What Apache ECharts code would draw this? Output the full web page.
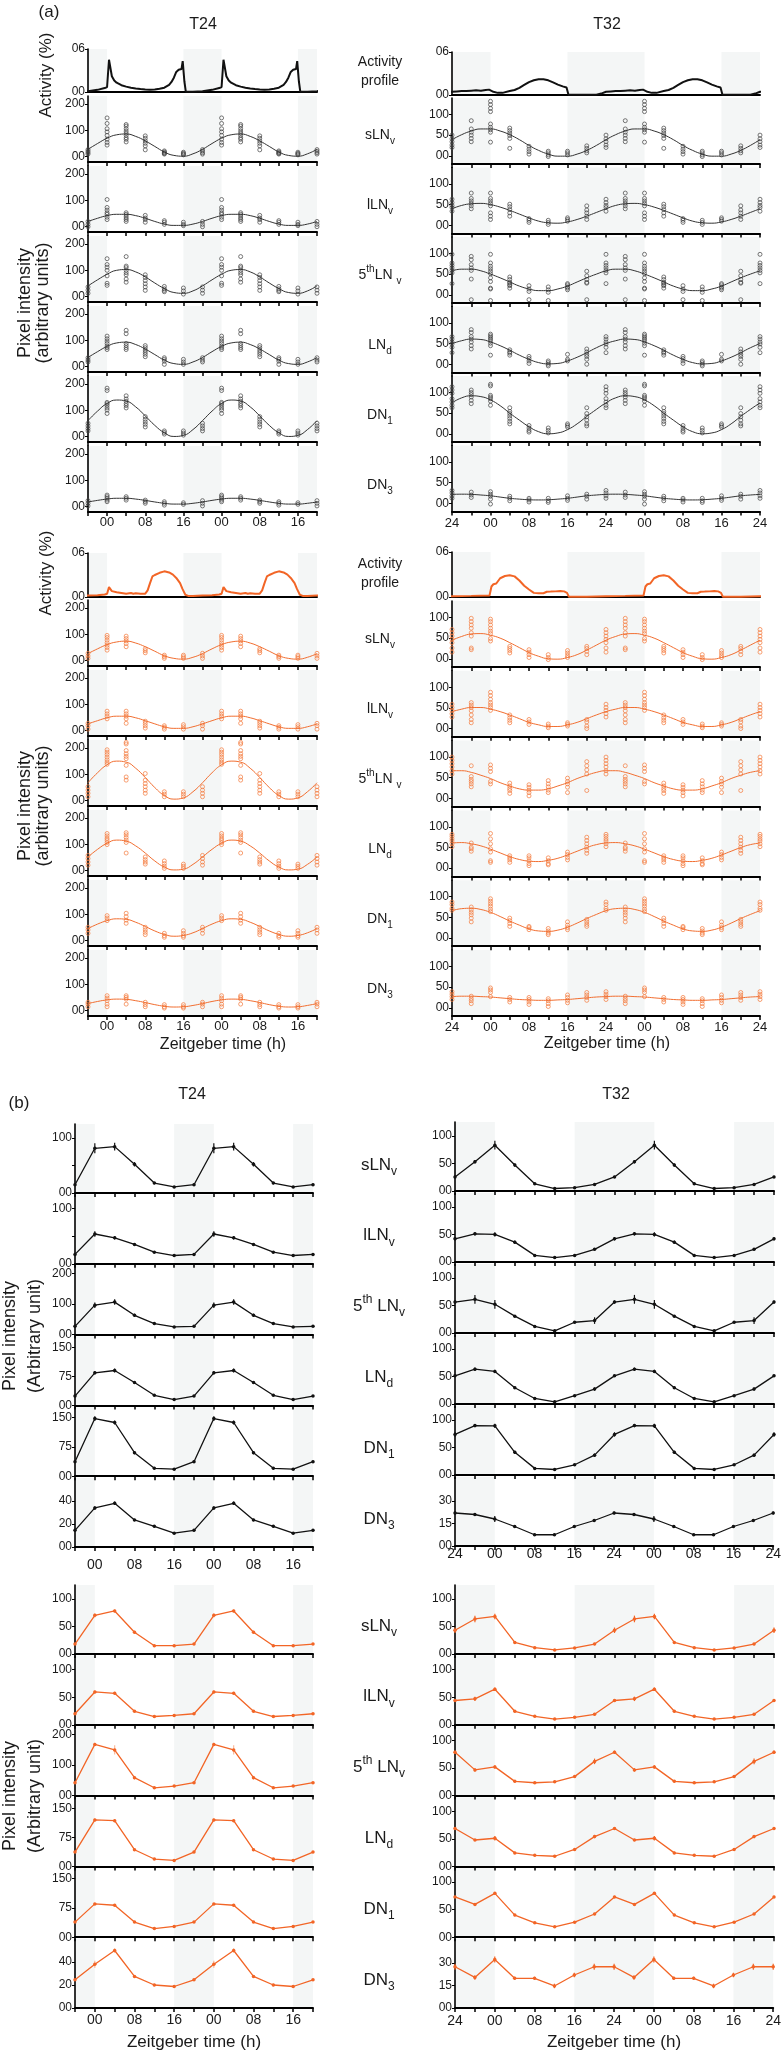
<!DOCTYPE html>
<html><head><meta charset="utf-8">
<script src="https://cdn.jsdelivr.net/npm/echarts@6/dist/echarts.min.js"></script>
<style>html,body{margin:0;padding:0;background:#fff}#c{width:784px;height:2055px}</style>
</head><body><div id="c"></div>
<script>
// ---------------- DATA ----------------
const ztT24 = [0,4,8,12,16,20];
const ztT32 = [0,4,8,12,16,20,24,28];
const darkT24 = [[-4,0],[16,24],[40,44]];
const darkT32 = [[-8,0],[16,32],[48,56]];
const rowLabelsA = ['{n|sLN}{sb|v}','{n|lLN}{sb|v}','{n|5}{sp|th}{n|LN }{sb|v}','{n|LN}{sb|d}','{n|DN}{sb|1}','{n|DN}{sb|3}'];
const rowLabelsB = ['{n|sLN}{sb|v}','{n|lLN}{sb|v}','{n|5}{sp|th}{n| LN}{sb|v}','{n|LN}{sb|d}','{n|DN}{sb|1}','{n|DN}{sb|3}'];

// activity profiles: [ZT within cycle, activity]
const actBlk24 = [[0,0.7],[0.4,4.5],[1,2.2],[1.5,1.6],[2,1.3],[3,0.95],[4,0.75],[5,0.6],[6,0.5],[7,0.42],[8,0.36],[9,0.33],[10,0.35],[11,0.45],[12,0.6],[13,1.0],[13.5,1.4],[14,2.0],[14.5,2.8],[15,3.1],[15.6,3.2],[15.85,4.3],[16.2,1.5],[16.5,0.05],[18,0.05],[20,0.12],[22,0.3],[23.5,0.55]];
const actBlk32 = [[0,1.0],[0.6,0.45],[1.5,0.3],[2.5,0.3],[4,0.55],[5,0.7],[6,1.0],[7,1.4],[8,1.8],[9,2.05],[10,2.2],[11,2.2],[12,2.05],[13,1.75],[14,1.45],[15,1.2],[15.8,1.05],[16.2,0.05],[18,0.02],[20,0.02],[22,0.05],[23,0.2],[24,0.45],[25,0.5],[26,0.55],[27,0.55],[28,0.6],[29,0.65],[30,0.6],[31,0.7],[31.7,0.75]];
const actOrg24 = [[0,0.45],[0.4,1.35],[1,0.8],[2,0.65],[3,0.55],[4,0.45],[5,0.55],[5.5,0.45],[6,0.5],[7,0.45],[8,0.45],[8.5,0.9],[9,1.9],[9.5,2.8],[10,3.0],[11,3.3],[12,3.5],[13,3.35],[13.8,3.05],[14.5,2.6],[15.3,1.9],[15.8,1.1],[16.4,0.3],[17,0.15],[18,0.15],[20,0.2],[22,0.25],[23.5,0.35]];
const actOrg32 = [[0,0.2],[0.2,1.4],[0.6,1.7],[1.2,1.8],[1.6,2.0],[2,2.5],[3,2.8],[4,2.9],[5,2.75],[6,2.2],[7,1.5],[8,1.0],[9,0.55],[10,0.5],[11,0.5],[11.7,0.7],[12.5,0.72],[13.5,0.75],[14.5,0.8],[15.3,0.75],[15.9,0.55],[16.3,0.02],[20,0.02],[24,0.1],[28,0.15],[31.8,0.2]];

// (a) individual values per ZT (rows: sLNv, lLNv, 5th LNv, LNd, DN1, DN3)
const blk24Pts = [
 [[147,126,106,94,81,66,54,44],[122,116,106,97,89,81,72,66,56],[79,70,60,51,41,26],[22,18,15,12,10],[17,13,10,7],[27,21,15,10]],
 [[103,73,63,53,47,36,27],[53,47,40,33,27,20],[43,33,27,17],[23,17,9],[17,9,4],[20,9,0]],
 [[144,122,112,100,79,51,43],[152,116,110,100,91,83,67,55],[83,73,61,49,37,24],[39,30,24,19],[33,22,10],[37,25,13]],
 [[116,106,97,88,78,72,65],[138,125,88,80,72,65],[80,72,63,55,47,38],[34,28,21,9],[28,18,9],[34,25,18]],
 [[184,175,130,125,118,109,101,88],[155,143,134,125,118,109],[76,66,56,47,37],[22,16,10],[22,14,6],[51,41,31,22]],
 [[44,38,32,25,19],[38,32,25],[25,19,13],[19,13,6],[15,9],[23,13,3]]
];
const blk32Pts = [
 [[132,124,115,107,77,69,63,57,33],[67,61,55,49,42,18],[23,16,10,4],[11,7,2,-2],[11,7,2],[24,18,12,7],[50,41,34,26,20],[85,65,57,50,42,34]],
 [[78,65,59,53,47,30,22,14],[51,45,38,30,22],[16,12,7],[12,7,2],[18,14,10],[47,37,30,22,14],[63,55,48,43,34],[78,65,59,53,47,40]],
 [[98,77,69,63,57,51,41,32,16,14,-14],[43,37,30,28,24,22,16],[22,14,8,-12],[19,12,6,-14],[27,24,19,16,12],[57,46,37,30,28,-12],[98,77,71,65,59,53,27],[93,85,73,65,59,38,-12]],
 [[73,69,65,61,57,51,45,22],[35,30,27,22],[19,14,8,2],[8,4,0,-4],[24,12,8],[37,30,24,19,12,0],[67,61,54,49,41,28],[84,77,67,61,54,45,37]],
 [[120,116,93,89,85,79,69],[63,54,49,43,37,30,24],[20,14,8,4],[14,8,2],[24,20,16],[63,49,41,33,24,19],[114,106,98,85,77,69,63],[106,100,95,89,81,73]],
 [[28,22,17,10,-2],[17,12,6],[12,8,3],[12,6,2],[18,12,7],[22,17,10],[31,25,18,12],[27,20,14]]
];
const org24Pts = [
 [[96,88,78,68,59,50,40],[93,84,75,65,53],[45,38,30],[21,15,9],[21,15,9],[28,18,9]],
 [[74,64,55,45],[74,64,55,45,28],[36,28,19,10],[19,13,6],[23,15,6],[28,19,6]],
 [[193,184,175,165,155,146,138],[221,215,190,178,168,159,134,90,78],[103,78,65,53,40,28],[34,25,15],[34,25,15],[53,40,28,15]],
 [[141,132,123,116,107,99],[144,136,126,116,107,67],[52,42,33,25],[37,27,17,9],[25,17,9],[58,46,33,21]],
 [[95,86,76],[104,91,78,66],[51,41,32,23],[28,19,13],[38,28,19,13],[51,41,28]],
 [[57,48,38,25,15],[57,51,44,25],[32,23,15],[23,15,10],[23,15,10],[32,25,15]]
];
const org32Pts = [
 [[96,90,82,74,67,61,49,43],[30,25,20,14],[22,16,10,3],[10,3,-2],[20,14,8,3],[30,25,18,10],[71,63,55,47,39,26,16],[98,90,82,74,63,55,26,22]],
 [[88,80,71,63,57,51,44],[33,26,20,14],[22,16,10],[11,6,2],[14,10,6],[22,16,6,0],[59,51,44,36,28],[63,57,51,43,33,22,14]],
 [[81,73,65,41,35],[37,30,24,19,12],[33,27,20,14,6],[43,35,28,20,14],[49,41,35,27,14],[89,79,69,59,19],[100,92,84,76,67,59],[79,53,46,41,35,28]],
 [[84,71,59,47,39,18,14],[30,25,20,14],[30,25,18,11,6],[25,18,11,8],[39,33,26,20],[75,67,59,51,43,36],[82,77,71,66,59,52],[61,51,47,41]],
 [[95,89,83,77,70,64],[48,42,35,28],[28,25,20],[23,17,12,8],[39,31,25,20],[45,39,33,28],[87,81,72,67],[75,68,62,56,48,39]],
 [[48,43,37,27],[25,20,14],[25,20,14,8],[22,17,10,3],[31,25,18,12],[37,31,25,18],[39,33,27,20],[28,22,17,10]]
];
// (a) fitted curves, every 2 h of one cycle
const blk24Fit = [
 [70,83,86,77,60,39,18,5,2,11,28,50],
 [42,47,47,42,32,20,10,5,5,10,20,32],
 [85,100,103,94,75,52,31,16,13,22,41,64],
 [77,90,93,84,67,46,25,12,9,18,35,57],
 [126,139,135,113,79,43,15,1,5,27,61,97],
 [29,32,32,29,24,18,13,10,10,13,18,24]
];
const blk32Fit = [
 [65,60,51,39,25,13,4,-1,-1,4,13,25,39,51,60,65],
 [50,44,36,27,18,10,6,5,8,14,22,31,40,48,52,53],
 [50,41,31,21,14,10,10,14,21,31,41,50,58,62,62,58],
 [54,45,34,22,12,4,1,2,8,17,28,40,50,57,61,60],
 [82,68,50,33,17,5,0,2,10,24,42,59,75,87,92,90],
 [18,15,12,10,8.5,8,8.5,10,12,15,18,20,21.5,22,21.5,20]
];
const org24Fit = [
 [61,71,74,67,53,36,19,9,6,13,27,45],
 [49,55,55,49,38,26,15,9,9,15,26,38],
 [136,150,146,123,88,50,20,6,11,34,68,106],
 [104,116,112,94,67,37,14,3,6,24,52,81],
 [76,83,81,70,54,37,24,17,20,30,46,63],
 [41,44,43,38,31,23,17,14,15,20,27,35]
];
const org32Fit = [
 [57,50,39,27,15,6,0,-1,3,10,21,33,45,54,60,61],
 [47,41,33,24,15,9,5,5,9,15,24,33,41,47,51,51],
 [48,38,30,23,20,20,23,30,38,48,56,63,67,67,63,56],
 [46,37,28,21,17,16,19,24,32,41,50,57,61,62,59,54],
 [62,52,41,31,22,17,16,19,26,36,47,57,66,71,72,69],
 [26,24,22,20,19,18,18,19,20,22,24,26,27,28,28,27]
];
// (b) mean and SEM per ZT
const blk24Mean = [[81,84,52,18,11,15],[54,47,35,21,15,17],[96,106,63,36,25,27],[84,90,59,26,15,24],[147,137,60,20,18,37],[34,38,23.5,18,12,14.5]];
const blk24Sem  = [[9,7,4,2,1.5,2],[5,3,2,1.5,1.5,1.5],[9,9,5,3,2,2],[4,5,3,2,1.5,2],[6,5,4,2,2,3],[1.5,1.5,1,1,1,1]];
const blk32Mean = [[83,47,13,4.5,6,12,25.5,53],[50,36,12,8,12,23,42,51],[52,30.5,12,4,19.5,22.5,56,61],[59,29.5,10,4,15,27,51,63],[89,41,12,10,18.5,36,73.5,89.5],[18,13,7.5,7.5,13,17,22,21]];
const blk32Sem  = [[8,3,2,1,1,1.5,2,3],[4,3,1.5,1,1.5,2,3,3],[8,2,2,2,2,6,3,8],[3,2,1.5,1,1.5,3,2,3],[4,3,1.5,1,1.5,3,4,3],[2,1,0.7,0.7,1,1,1,1]];
const org24Mean = [[70,78,39.5,15,15,18],[59.5,57,24.5,15,17,20],[167,149,58.5,25.5,31,42],[120,118,43,19,15.5,37],[85,81.5,38.5,22,27.5,38.5],[38,50,27.5,20,18.7,24.5]];
const org24Sem  = [[4,3,3,1.5,1.5,1.5],[3,3,2,1.5,1.5,1.5],[5,15,6,3,3,3],[4,4,3,2,1.5,3],[2,2,2,1.5,1.5,2],[3,2,1,1,1,1]];
const org32Mean = [[68,21,11.5,7.3,11,18,43,63.5],[64.5,24.5,15.3,10.4,13.5,19,44,47],[52,25.8,23.3,25,34.4,62,78.5,46.6],[51,24.5,20,18.4,30.7,54,68.7,47.8],[79.4,40,26,18.8,27.3,42,73,59.4],[32.3,19.8,19.8,14.7,22,27.5,27.5,20.4]];
const org32Sem  = [[5,2,1.5,1,1.5,2,5,6],[3,2,1.5,1,1.5,2,2,4],[3,2,2,2,2,5,3,3],[4,2,1.5,1.5,2,3,2,2],[2,2,1.5,1,1.5,2,2,2],[2,1,1,1.5,1.5,2,2,1.5]];

// ---------------- BUILD ----------------
const FONT = '"Liberation Sans", Arial, Helvetica, sans-serif';
const INK = '#1a1a1a';
const ORANGE = '#f26526';
const SHADE = '#f4f6f6';
const grids = [], xAxes = [], yAxes = [], series = [], graphics = [];

function pad(v){ return (v >= 0 && v < 10) ? '0' + v : String(v); }
function mod(a, p){ return ((a % p) + p) % p; }

function addPanel(c){
  const i = grids.length;
  grids.push({left:c.left, top:c.top, width:c.width, height:c.height, containLabel:false});
  xAxes.push({type:'value', gridIndex:i, min:c.lo, max:c.hi, interval:4,
    axisLine:{onZero:false, lineStyle:{color:'#000', width:2}},
    axisTick:{show:c.xTicks !== false, length:4, lineStyle:{color:'#000', width:1.5}},
    axisLabel:{show:!!c.xLabels, showMinLabel:true, showMaxLabel:true, margin:c.margin || 4, fontSize:c.xFont || 13, color:INK, fontFamily:FONT,
      formatter:v => (mod(v, 8) !== 0) ? '' : pad(mod(v, c.P))},
    splitLine:{show:false}});
  yAxes.push({type:'value', gridIndex:i, min:c.yMin, max:c.yMax,
    axisLine:{show:true, onZero:false, lineStyle:{color:'#000', width:1.6}},
    axisTick:{show:true, length:3, customValues:c.yTicks, lineStyle:{color:'#000', width:1}},
    axisLabel:{show:true, customValues:c.yLabels || c.yTicks, margin:3, fontSize:12, color:INK, fontFamily:FONT, formatter:v => pad(v)},
    splitLine:{show:false}});
  series.push({type:'custom', xAxisIndex:i, yAxisIndex:i, silent:true, z:0, data:c.dark, encode:{x:[0,1]},
    renderItem:(params, api) => {
      const cs = params.coordSys;
      const x0 = api.coord([api.value(0), 0])[0], x1 = api.coord([api.value(1), 0])[0];
      return {type:'rect', shape:{x:x0, y:cs.y, width:x1 - x0, height:cs.height}, style:{fill:SHADE}};
    }});
  return i;
}
function actData(pairs, P, lo, hi){
  const out = [];
  for (let k = -1; k <= 2; k++) pairs.forEach(([t, v]) => { const x = t + k * P; if (x >= lo - P / 4 && x <= hi + P / 4) out.push([x, v]); });
  return out.sort((a, b) => a[0] - b[0]);
}
function scatterData(pts, P, lo, hi){
  const out = [];
  for (let x = lo; x <= hi; x += 4) pts[mod(x, P) / 4].forEach(v => out.push([x, v]));
  return out;
}
function fitData(fit, P, lo, hi){
  const out = [];
  for (let x = lo; x <= hi; x += 2) out.push([x, fit[mod(x, P) / 2]]);
  return out;
}
function meanData(m, P, lo, hi){
  const out = [];
  for (let x = lo; x <= hi; x += 4) out.push([x, m[mod(x, P) / 4]]);
  return out;
}
function errData(m, s, P, lo, hi){
  const out = [];
  for (let x = lo; x <= hi; x += 4){ const j = mod(x, P) / 4; out.push([x, m[j] - s[j], m[j] + s[j]]); }
  return out;
}
function rich(size){
  const s = Math.round(size * 0.7);
  return {
    n:{fontSize:size, fontFamily:FONT, fill:INK, color:INK, lineHeight:size + 8, verticalAlign:'middle'},
    sb:{fontSize:s, fontFamily:FONT, fill:INK, color:INK, lineHeight:s + 1, verticalAlign:'bottom'},
    sp:{fontSize:s, fontFamily:FONT, fill:INK, color:INK, lineHeight:s + 1, verticalAlign:'top'}
  };
}
function txt(x, y, text, size, o){
  o = o || {};
  graphics.push({type:'text', x:x, y:y, rotation:o.rot || 0, silent:true, z:100,
    style:{text:text, font:size + 'px ' + FONT, fontSize:size, fontFamily:FONT, fill:INK, align:'center', textAlign:'center',
      verticalAlign:'middle', textVerticalAlign:'middle', lineHeight:o.lh, rich:o.rich}});
}

// ----- panel (a) -----
const colA = [
  {left:88, width:229, lo:-4, hi:44, P:24, dark:darkT24, yMin:-20, yMax:230, yTicks:[0,100,200]},
  {left:452, width:308, lo:-8, hi:56, P:32, dark:darkT32, yMin:-20, yMax:140, yTicks:[0,50,100]}
];
const blocksA = [
  {line:'#111', dot:'#444', fit:'#333', cols:[
    {act:actBlk24, pts:blk24Pts, fit:blk24Fit, actTop:49, actH:43, bot:162, step:70, margin:4},
    {act:actBlk32, pts:blk32Pts, fit:blk32Fit, actTop:52, actH:43, bot:164, step:69.5, margin:5}],
   labelBot:162, actLabelY:72, actTitleY:75, pixTitleY:303, xTitle:false},
  {line:ORANGE, dot:'#f47a3e', fit:'#f26e30', cols:[
    {act:actOrg24, pts:org24Pts, fit:org24Fit, actTop:553, actH:44, bot:666, step:70, margin:4},
    {act:actOrg32, pts:org32Pts, fit:org32Fit, actTop:552, actH:45, bot:667, step:69.8, margin:5}],
   labelBot:666, actLabelY:574, actTitleY:573, pixTitleY:806, xTitle:true}
];
blocksA.forEach(B => {
  B.cols.forEach((D, ci) => {
    const C = colA[ci];
    const ia = addPanel(Object.assign({}, C, {top:D.actTop, height:D.actH, yMin:0, yMax:6, yTicks:[0,6], xTicks:false, xLabels:false}));
    series.push({type:'line', xAxisIndex:ia, yAxisIndex:ia, data:actData(D.act, C.P, C.lo, C.hi), symbol:'none', z:3,
      lineStyle:{color:B.line, width:2}});
    for (let r = 0; r < 6; r++){
      const bot = D.bot + D.step * r;
      const ip = addPanel(Object.assign({}, C, {top:bot - 66, height:66, xLabels:r === 5, margin:D.margin}));
      series.push({type:'scatter', xAxisIndex:ip, yAxisIndex:ip, data:scatterData(D.pts[r], C.P, C.lo, C.hi), symbol:'circle', symbolSize:4, z:3,
        itemStyle:{color:'rgba(0,0,0,0)', borderColor:B.dot, borderWidth:0.9}});
      series.push({type:'line', xAxisIndex:ip, yAxisIndex:ip, data:fitData(D.fit[r], C.P, C.lo, C.hi), symbol:'none', smooth:true, z:4,
        lineStyle:{color:B.fit, width:1}});
    }
  });
  txt(380, B.actLabelY, 'Activity\nprofile', 14, {lh:19});
  for (let r = 0; r < 6; r++) txt(380, B.labelBot + 70 * r - 27, rowLabelsA[r], 14, {rich:rich(14)});
  txt(46, B.actTitleY, 'Activity (%)', 17, {rot:Math.PI / 2});
  txt(25, B.pixTitleY, 'Pixel intensity', 18, {rot:Math.PI / 2});
  txt(43, B.pixTitleY, '(arbitrary units)', 18, {rot:Math.PI / 2});
  if (B.xTitle){ txt(223, 1045, 'Zeitgeber time (h)', 16); txt(607, 1044, 'Zeitgeber time (h)', 16); }
});
txt(49, 12, '(a)', 17);
txt(203, 25, 'T24', 16);
txt(607, 25, 'T32', 16);

// ----- panel (b) -----
const colB = [
  {left:75, width:238, lo:-4, hi:44, P:24, dark:darkT24, yMax:[125,125,225,178,176,60],
   yTicks:[[0,50,100],[0,50,100],[0,100,200],[0,75,150],[0,75,150],[0,20,40]]},
  {left:455, width:319, lo:-8, hi:56, P:32, dark:darkT32, yMax:[125,125,125,125,125,46],
   yTicks:[[0,50,100],[0,50,100],[0,50,100],[0,50,100],[0,50,100],[0,15,30]]}
];
const blocksB = [
  {line:'#111', err:['#111','#111'], mean:[blk24Mean, blk32Mean], sem:[blk24Sem, blk32Sem], bot:[1193,1191], step:[70.8,71], margin:[11,1],
   labels24:[[0,100],[0,100]], pixTitleY:1336, labelBot:1193, xTitle:false},
  {line:ORANGE, err:['rgba(242,101,38,0.45)', ORANGE], mean:[org24Mean, org32Mean], sem:[org24Sem, org32Sem], bot:[1654,1654], step:[70.8,70.8], margin:[5,6],
   labels24:null, pixTitleY:1796, labelBot:1654, xTitle:true}
];
blocksB.forEach(B => {
  colB.forEach((C, ci) => {
    for (let r = 0; r < 6; r++){
      const bot = B.bot[ci] + B.step[ci] * r;
      const yLabels = (ci === 0 && B.labels24 && r < 2) ? B.labels24[r] : C.yTicks[r];
      const ip = addPanel(Object.assign({}, C, {top:bot - 69, height:69, yMin:0, yMax:C.yMax[r], yTicks:C.yTicks[r], yLabels:yLabels,
        xLabels:r === 5, margin:B.margin[ci], xFont:14}));
      series.push({type:'custom', xAxisIndex:ip, yAxisIndex:ip, z:3, encode:{x:0, y:[1,2]},
        data:errData(B.mean[ci][r], B.sem[ci][r], C.P, C.lo, C.hi),
        renderItem:(params, api) => {
          const a = api.coord([api.value(0), api.value(1)]), b = api.coord([api.value(0), api.value(2)]);
          return {type:'line', shape:{x1:a[0], y1:a[1], x2:b[0], y2:b[1]}, style:{stroke:B.err[ci], lineWidth:1.2}};
        }});
      series.push({type:'line', xAxisIndex:ip, yAxisIndex:ip, data:meanData(B.mean[ci][r], C.P, C.lo, C.hi), z:4,
        symbol:'circle', symbolSize:3.5, itemStyle:{color:B.line}, lineStyle:{color:B.line, width:1.3}});
    }
  });
  for (let r = 0; r < 6; r++) txt(379, B.labelBot + 70.8 * r - 28, rowLabelsB[r], 17, {rich:rich(17)});
  txt(10, B.pixTitleY, 'Pixel intensity', 18, {rot:Math.PI / 2});
  txt(35, B.pixTitleY, '(Arbitrary unit)', 18, {rot:Math.PI / 2});
  if (B.xTitle){ txt(194, 2042, 'Zeitgeber time (h)', 17); txt(614, 2042, 'Zeitgeber time (h)', 17); }
});
txt(19, 1103, '(b)', 17);
txt(192, 1095, 'T24', 16);
txt(616, 1095, 'T32', 16);

const chart = echarts.init(document.getElementById('c'), null, {renderer:'canvas', width:784, height:2055});
chart.setOption({animation:false, backgroundColor:'#fff', grid:grids, xAxis:xAxes, yAxis:yAxes, series:series, graphic:graphics});
</script></body></html>
